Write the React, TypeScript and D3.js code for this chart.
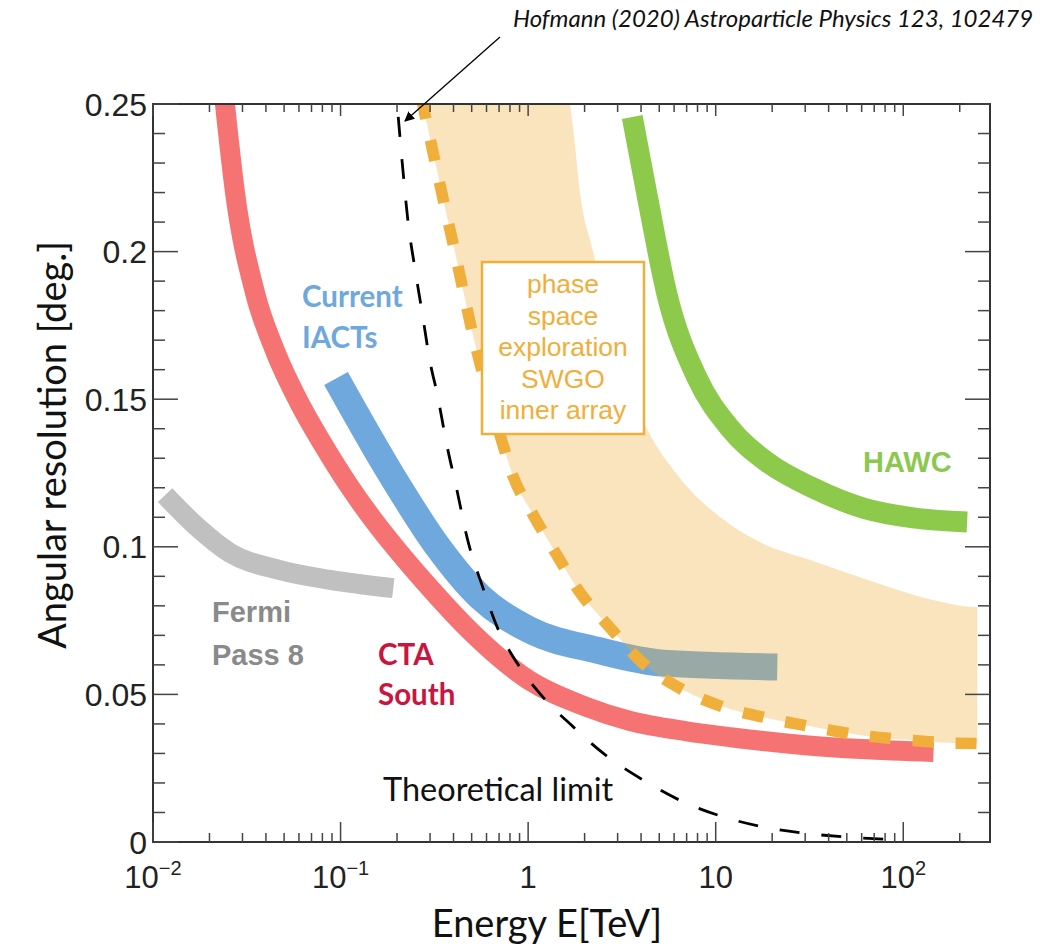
import React from "react";
import * as d3 from "d3";

const W = 1056;
const H = 944;
const PLOT_LEFT = 153;
const PLOT_RIGHT = 990;
const PLOT_TOP = 104;
const PLOT_BOTTOM = 842;

// Axis ticks
const xTickValues = [0.01, 0.1, 1, 10, 100];
const xTickBase = ["10", "10", "1", "10", "10"];
const xTickExp = ["\u22122", "\u22121", "", "", "2"];
const yTickValues = [0, 0.05, 0.1, 0.15, 0.2, 0.25];
const yTickLabels = ["0", "0.05", "0.1", "0.15", "0.2", "0.25"];

// CTA South
const ctaEnergy = [0.024, 0.0275, 0.035, 0.045, 0.06, 0.08, 0.11, 0.15, 0.2, 0.3, 0.5, 1.0, 2.0, 3.5, 7, 12, 30, 60, 145];
const ctaRes = [0.252, 0.219, 0.186, 0.166, 0.149, 0.135, 0.121, 0.109, 0.099, 0.086, 0.071, 0.055, 0.046, 0.041, 0.0375, 0.0355, 0.0328, 0.0315, 0.0305];

// Current IACTs
const iactEnergy = [0.0946, 0.184, 0.33, 0.555, 1.02, 2.33, 5.25, 21.3];
const iactRes = [0.157, 0.125, 0.1, 0.083, 0.0718, 0.065, 0.0606, 0.0593];

// HAWC
const hawcEnergy = [3.59, 4.31, 5.51, 7.96, 11.9, 18.8, 33.1, 61.2, 113, 219];
const hawcRes = [0.2456, 0.219, 0.1853, 0.1572, 0.1402, 0.1287, 0.1199, 0.1131, 0.1098, 0.1084];

// Fermi Pass 8
const fermiEnergy = [0.0116, 0.0172, 0.0258, 0.0475, 0.0879, 0.191];
const fermiRes = [0.1175, 0.1067, 0.0979, 0.0921, 0.0888, 0.086];

// SWGO inner array phase space: lower bound (dashed) and upper bound
const swgoLowEnergy = [0.27, 0.32, 0.36, 0.41, 0.46, 0.52, 0.6, 0.7, 0.83, 1.06, 1.43, 1.89, 2.74, 4.1, 6.7, 11, 18.8, 33, 59, 105, 185, 300];
const swgoLowRes = [0.252, 0.23, 0.215, 0.199, 0.184, 0.169, 0.154, 0.139, 0.124, 0.111, 0.097, 0.0845, 0.0725, 0.0605, 0.0515, 0.0457, 0.042, 0.039, 0.0362, 0.0346, 0.0335, 0.0333];
const swgoHighEnergy = [1.6, 1.75, 1.9, 2.22, 2.6, 3.3, 4.3, 6.5, 10.6, 17.3, 31.9, 64.3, 144, 248, 300];
const swgoHighRes = [0.26, 0.24, 0.219, 0.2, 0.18, 0.157, 0.14, 0.123, 0.11, 0.1015, 0.0955, 0.0888, 0.082, 0.0796, 0.0796];
const swgoBandEndEnergy = 248;

// Theoretical limit
const limitEnergy = [0.203, 0.2154, 0.229, 0.249, 0.272, 0.3, 0.327, 0.37, 0.418, 0.473, 0.575, 0.684, 0.873, 1.2, 1.74, 2.51, 4.1, 6.71, 11.0, 17.9, 29.3, 50.3, 96.4];
const limitRes = [0.2456, 0.227, 0.21, 0.1944, 0.1795, 0.1626, 0.152, 0.134, 0.119, 0.103, 0.086, 0.0728, 0.0606, 0.0491, 0.039, 0.0301, 0.021, 0.0136, 0.0085, 0.0051, 0.003, 0.0017, 0.0007];

const COLORS = {
  cta: "#f67373",
  ctaText: "#c8163f",
  iact: "#6fa8dc",
  hawc: "#8dca4c",
  hawcText: "#8cc850",
  fermi: "#c0c0c0",
  fermiText: "#8a8a8a",
  swgo: "#f0ae3a",
  band: "#f0ae3a",
  axis: "#333333",
};

type P = [number, number];
const zip = (e: number[], r: number[]): P[] => e.map((v, i) => [v, r[i]] as P);

export default function App() {
  const x = d3.scaleLog().domain([0.01, 290]).range([PLOT_LEFT, PLOT_RIGHT]);
  const y = d3.scaleLinear().domain([0, 0.25]).range([PLOT_BOTTOM, PLOT_TOP]);
  const line = d3
    .line<P>()
    .x((d) => x(d[0]))
    .y((d) => y(d[1]))
    .curve(d3.curveMonotoneX);

  const lowPts = zip(swgoLowEnergy, swgoLowRes);
  const highPts = zip(swgoHighEnergy, swgoHighRes);
  const bandPath =
    (line(lowPts) as string) +
    (line(highPts.slice().reverse()) as string).replace(/^M/, "L") +
    "Z";

  const xTicks = x.ticks();
  const yTicks = y.ticks(25);
  const isMajorX = (v: number) => Math.abs(Math.log10(v) - Math.round(Math.log10(v))) < 1e-6;
  const isMajorY = (v: number) => Math.abs(v * 20 - Math.round(v * 20)) < 1e-6;

  const sansFont = "'Liberation Sans', Arial, Helvetica, sans-serif";
  const calFont = "Lato, 'Open Sans', sans-serif";

  return (
    <svg
      width={W}
      height={H}
      viewBox={`0 0 ${W} ${H}`}
      style={{ position: "absolute", left: 0, top: 0, background: "#fff" }}
    >
      <defs>
        <clipPath id="plotClip">
          <rect x={PLOT_LEFT} y={PLOT_TOP} width={PLOT_RIGHT - PLOT_LEFT} height={PLOT_BOTTOM - PLOT_TOP} />
        </clipPath>
        <clipPath id="bandClip">
          <rect x={PLOT_LEFT} y={PLOT_TOP} width={x(swgoBandEndEnergy) - PLOT_LEFT} height={PLOT_BOTTOM - PLOT_TOP} />
        </clipPath>
        <marker id="arrowHead" viewBox="0 0 10 10" refX="9" refY="5" markerWidth="10" markerHeight="10" markerUnits="userSpaceOnUse" orient="auto">
          <path d="M0,0 L10,5 L0,10 Z" fill="#000" />
        </marker>
      </defs>
      <rect x={0} y={0} width={W} height={H} fill="#fff" />

      <g clipPath="url(#plotClip)">
        {/* Current IACTs (under band) */}
        <path d={line(zip(iactEnergy, iactRes)) as string} fill="none" stroke={COLORS.iact} strokeWidth={27} />
        {/* SWGO band */}
        <g clipPath="url(#bandClip)">
          <path d={bandPath} fill={COLORS.band} fillOpacity={0.33} stroke="none" />
        </g>
        {/* CTA South */}
        <path d={line(zip(ctaEnergy, ctaRes)) as string} fill="none" stroke={COLORS.cta} strokeWidth={20} />
        {/* Fermi */}
        <path d={line(zip(fermiEnergy, fermiRes)) as string} fill="none" stroke={COLORS.fermi} strokeWidth={20} />
        {/* HAWC */}
        <path d={line(zip(hawcEnergy, hawcRes)) as string} fill="none" stroke={COLORS.hawc} strokeWidth={21} />
        {/* SWGO lower bound dashed */}
        <path d={line(lowPts) as string} fill="none" stroke={COLORS.swgo} strokeWidth={11.5} strokeDasharray="21 22" />
        {/* Theoretical limit */}
        <path d={line(zip(limitEnergy, limitRes)) as string} fill="none" stroke="#000" strokeWidth={2.8} strokeDasharray="20 22" />
      </g>

      {/* Axes frame */}
      <rect x={PLOT_LEFT} y={PLOT_TOP} width={PLOT_RIGHT - PLOT_LEFT} height={PLOT_BOTTOM - PLOT_TOP} fill="none" stroke={COLORS.axis} strokeWidth={2} />

      {/* Ticks */}
      <g stroke="#444" strokeWidth={1.5}>
        {xTicks.map((v, i) => {
          const px = x(v);
          const maj = isMajorX(v);
          return (
            <g key={"xt" + i}>
              <line x1={px} x2={px} y1={PLOT_BOTTOM} y2={PLOT_BOTTOM - (maj ? 20 : 9)} />
              <line x1={px} x2={px} y1={PLOT_TOP} y2={PLOT_TOP + (maj ? 12 : 8)} />
            </g>
          );
        })}
        {yTicks.map((v, i) => {
          const py = y(v);
          const maj = isMajorY(v);
          return (
            <g key={"yt" + i}>
              <line x1={PLOT_LEFT} x2={PLOT_LEFT + (maj ? 25 : 12)} y1={py} y2={py} />
              <line x1={PLOT_RIGHT} x2={PLOT_RIGHT - (maj ? 25 : 12)} y1={py} y2={py} />
            </g>
          );
        })}
      </g>

      {/* X tick labels */}
      <g fontFamily={sansFont} fontSize={31} fill="#222" textAnchor="middle">
        {xTickValues.map((v, i) => (
          <text key={"xl" + i} x={x(v)} y={888}>
            <tspan>{xTickBase[i]}</tspan>
            {xTickExp[i] ? (
              <tspan fontSize={20} dy={-13}>
                {xTickExp[i]}
              </tspan>
            ) : null}
          </text>
        ))}
      </g>

      {/* Y tick labels */}
      <g fontFamily={sansFont} fontSize={32} fill="#222" textAnchor="end">
        {yTickValues.map((v, i) => (
          <text key={"yl" + i} x={147} y={y(v)} dy="0.36em">
            {yTickLabels[i]}
          </text>
        ))}
      </g>

      {/* Axis titles */}
      <text x={547} y={937} fontFamily={calFont} fontSize={38} textAnchor="middle" fill="#111">
        Energy E[TeV]
      </text>
      <text
        transform={`translate(66,445) rotate(-90)`}
        fontFamily={calFont}
        fontSize={38}
        textAnchor="middle"
        fill="#111"
      >
        Angular resolution [deg.]
      </text>

      {/* Series labels */}
      <g fontFamily={calFont} fontWeight={700} fontSize={29.5}>
        <text x={302} y={307} fill={COLORS.iact}>Current</text>
        <text x={302} y={348} fill={COLORS.iact}>IACTs</text>
        <text x={378} y={665} fill={COLORS.ctaText}>CTA</text>
        <text x={378} y={705} fill={COLORS.ctaText}>South</text>
      </g>
      <g fontFamily={sansFont} fontWeight={700} fontSize={29}>
        <text x={863} y={472} fill={COLORS.hawcText}>HAWC</text>
        <text x={212} y={622} fill={COLORS.fermiText}>Fermi</text>
        <text x={212} y={665} fill={COLORS.fermiText}>Pass 8</text>
      </g>
      <text x={383} y={801} fontFamily={calFont} fontSize={32.5} fill="#111">
        Theoretical limit
      </text>

      {/* SWGO box */}
      <rect x={482} y={262} width={162} height={172} fill="#fff" stroke={COLORS.swgo} strokeWidth={2.5} />
      <g fontFamily={sansFont} fontSize={26.5} fill={COLORS.swgo} textAnchor="middle">
        {["phase", "space", "exploration", "SWGO", "inner array"].map((t, i) => (
          <text key={t} x={563} y={293 + i * 31.5}>
            {t}
          </text>
        ))}
      </g>

      {/* Reference annotation */}
      <text x={513} y={27} fontFamily={calFont} fontStyle="italic" fontSize={24} fill="#111">
        Hofmann (2020) Astroparticle Physics 123, 102479
      </text>
      <line x1={500} y1={37} x2={405} y2={121} stroke="#000" strokeWidth={1.3} markerEnd="url(#arrowHead)" />
    </svg>
  );
}
